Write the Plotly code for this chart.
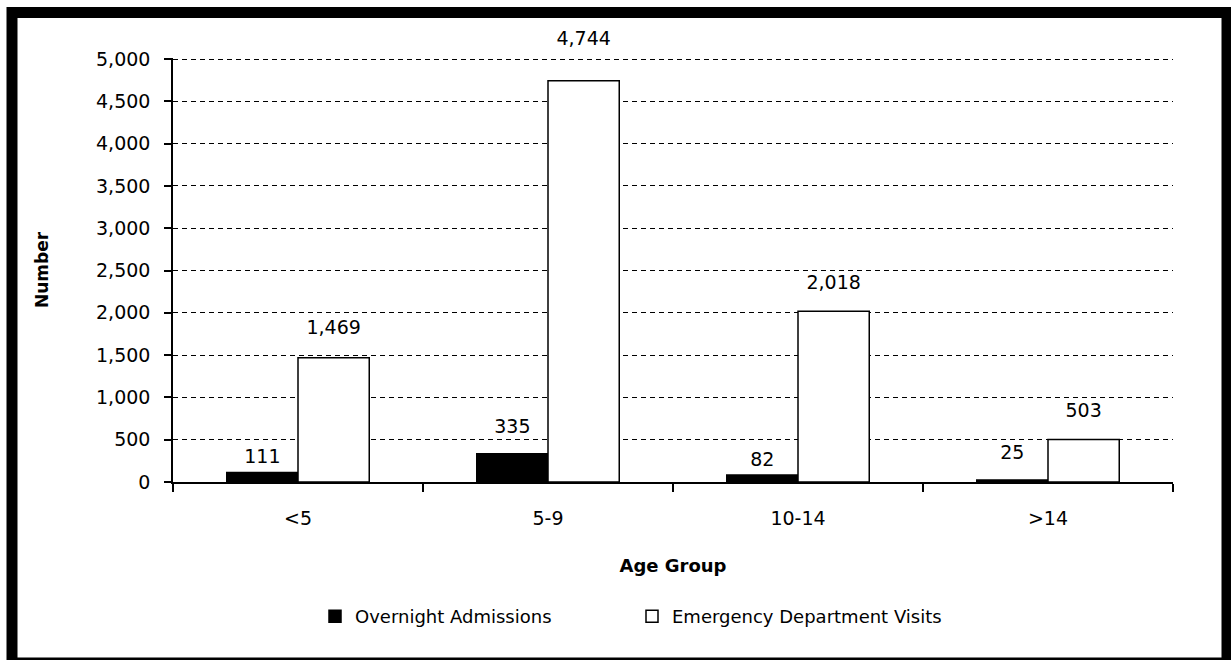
import plotly.graph_objects as go

categories = ["<5", "5-9", "10-14", ">14"]
overnight = [111, 335, 82, 25]
emergency = [1469, 4744, 2018, 503]
y_ticks = [0, 500, 1000, 1500, 2000, 2500, 3000, 3500, 4000, 4500, 5000]
y_ticklabels = [f"{v:,}" for v in y_ticks]

# style: gap (marker size, px) between bar top and its value label
overnight_label_gap = [6, 24, 6, 24]
emergency_label_gap = [28, 48, 26, 26]

W, H = 1231, 660
L, R, T, B = 173, 58, 58, 178
PW, PH = W - L - R, H - T - B

def px2x(px):
    return (px - L) / PW

def py2y(py):
    return (H - B - py) / PH

FONT = "DejaVu Sans"
BLACK = "black"

fig = go.Figure()
fig.add_trace(go.Bar(
    x=categories, y=overnight, name="Overnight Admissions", offsetgroup="a",
    marker=dict(color=BLACK, line=dict(color=BLACK, width=1.5)),
))
fig.add_trace(go.Bar(
    x=categories, y=emergency, name="Emergency Department Visits", offsetgroup="b",
    marker=dict(color="white", line=dict(color=BLACK, width=1.5)),
))
# value labels, placed above the bars through the same grouped offsets
for vals, grp, gaps in ((overnight, "a", overnight_label_gap),
                        (emergency, "b", emergency_label_gap)):
    fig.add_trace(go.Scatter(
        x=categories, y=vals, offsetgroup=grp, mode="markers+text",
        marker=dict(size=gaps, opacity=0), text=[f"{v:,}" for v in vals],
        textposition="top center", showlegend=False, hoverinfo="skip",
        textfont=dict(family=FONT, size=19, color=BLACK), cliponaxis=False,
    ))

fig.update_layout(
    width=W, height=H,
    margin=dict(l=L, r=R, t=T, b=B, autoexpand=False),
    paper_bgcolor="white", plot_bgcolor="white",
    barmode="group", bargap=0.43, bargroupgap=0,
    scattermode="group", scattergap=0.43,
    font=dict(family=FONT, size=19, color=BLACK),
    showlegend=True,
    legend=dict(orientation="h", x=px2x(632), xanchor="center",
                y=py2y(598), yanchor="top",
                font=dict(family=FONT, size=18, color=BLACK),
                itemwidth=30, tracegroupgap=0, entrywidth=272,
                entrywidthmode="pixels"),
    xaxis=dict(
        showline=True, linecolor=BLACK, linewidth=1.5,
        ticks="outside", ticklen=8, tickcolor=BLACK, tickwidth=1.5,
        tickson="boundaries", ticklabelstandoff=18,
        tickfont=dict(family=FONT, size=19, color=BLACK),
        title=dict(text="<b>Age Group</b>", font=dict(family=FONT, size=18, color=BLACK), standoff=32),
    ),
    yaxis=dict(
        range=[0, 5012], tickvals=y_ticks, ticktext=y_ticklabels,
        showline=True, linecolor=BLACK, linewidth=1.5,
        ticks="outside", ticklen=7, tickcolor=BLACK, tickwidth=1.5,
        ticklabelstandoff=10,
        showgrid=True, gridcolor=BLACK, gridwidth=1, griddash="5px,4px",
        zeroline=False,
        tickfont=dict(family=FONT, size=19, color=BLACK),
        title=dict(text="<b>Number</b>", font=dict(family=FONT, size=17, color=BLACK), standoff=43),
    ),
    shapes=[dict(type="rect", xref="paper", yref="paper",
                 x0=px2x(12), x1=px2x(1227), y0=py2y(663), y1=py2y(12.5),
                 line=dict(color=BLACK, width=11), fillcolor="rgba(0,0,0,0)",
                 layer="above")],
)

fig.write_html("out.html", config={"displayModeBar": False},
               post_script="document.body.style.margin='0';")
